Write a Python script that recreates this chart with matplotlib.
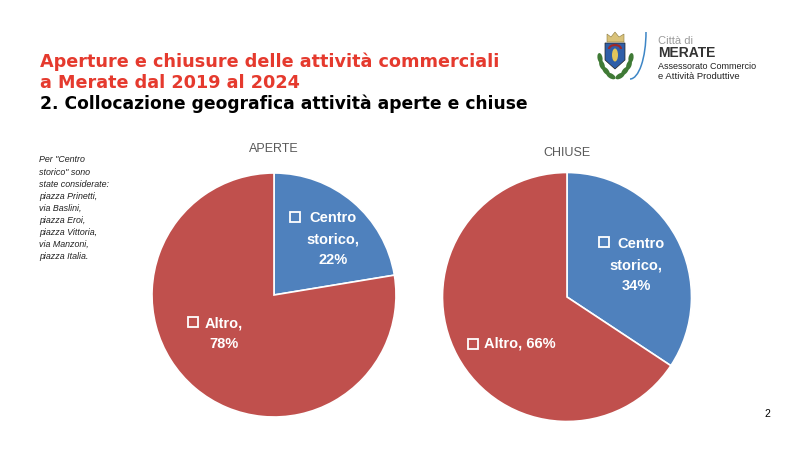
import matplotlib
matplotlib.use('Agg')
import matplotlib.pyplot as plt
from matplotlib.patches import Rectangle, Polygon, Ellipse, Arc

W, H = 800, 451

labels_open = [['Centro', 'storico,', '22%'], ['Altro,', '78%']]
values_open = [22.4, 77.6]
labels_closed = [['Centro', 'storico,', '34%'], ['Altro, 66%']]
values_closed = [34.3, 65.7]
colors = ['#4F81BD', '#C0504D']

title_red = ['Aperture e chiusure delle attività commerciali', 'a Merate dal 2019 al 2024']
title_black = '2. Collocazione geografica attività aperte e chiuse'
note_lines = ['Per "Centro', 'storico" sono', 'state considerate:', 'piazza Prinetti,', 'via Baslini,',
              'piazza Eroi,', 'piazza Vittoria,', 'via Manzoni,', 'piazza Italia.']

plt.rcParams['font.family'] = ['Liberation Sans', 'DejaVu Sans']

fig = plt.figure(figsize=(W / 100, H / 100), dpi=100, facecolor='white')

# overlay in pixel coordinates for the slide text and the logo
bg = fig.add_axes([0, 0, 1, 1])
bg.set_xlim(0, W)
bg.set_ylim(H, 0)
bg.axis('off')


def pie_axes(cx, cy, r, values):
    ax = fig.add_axes([(cx - r) / W, 1 - (cy + r) / H, 2 * r / W, 2 * r / H])
    ax.pie(values, colors=colors, startangle=90, counterclock=False, radius=1,
           wedgeprops={'edgecolor': 'white', 'linewidth': 1.2})
    ax.set_xlim(-1, 1)
    ax.set_ylim(-1, 1)
    ax.set_aspect('equal')
    return ax


pie_axes(274, 295, 122, values_open)
pie_axes(567, 297, 124.5, values_closed)

# labels of the slices, with the little square legend key
lab = fig.add_axes([0, 0, 1, 1])
lab.set_xlim(0, W)
lab.set_ylim(H, 0)
lab.axis('off')
lab.patch.set_alpha(0)


def pie_label(x, y, lines, kx, ky, first_dx=0):
    for i, line in enumerate(lines):
        dx = first_dx if i == 0 else 0
        lab.text(x + dx, y + i * 21, line, color='white', fontsize=10.5, fontweight='bold',
                 ha='center', va='baseline')
    lab.add_patch(Rectangle((kx, ky), 10, 10, fill=False, edgecolor='white', linewidth=1.3))


pie_label(333, 222, labels_open[0], 290, 212)
pie_label(224, 327, labels_open[1], 188, 317)
pie_label(636, 248, labels_closed[0], 599, 237, first_dx=5)
pie_label(520, 348, labels_closed[1], 468, 339)

bg.text(274, 149.5, 'APERTE', color='#595959', fontsize=9, ha='center', va='center')
bg.text(567, 152.5, 'CHIUSE', color='#595959', fontsize=9, ha='center', va='center')

# titles
bg.text(40, 66.7, title_red[0], color='#E53A2E', fontsize=12.7, fontweight='bold', family='DejaVu Sans')
bg.text(40, 88, title_red[1], color='#E53A2E', fontsize=12.7, fontweight='bold', family='DejaVu Sans')
bg.text(40, 109, title_black, color='black', fontsize=12.3, fontweight='bold', family='DejaVu Sans')

# side note
for i, line in enumerate(note_lines):
    bg.text(39, 160 + i * 12.1, line, color='#222222', fontsize=6.4, style='italic', va='center')

bg.text(767, 414, '2', color='black', fontsize=7.5, ha='center', va='center')

# logo
for lx, ly, ang in [(600, 58, -10), (602, 65, -20), (606, 71, -40), (611, 76, -60)]:
    bg.add_patch(Ellipse((lx, ly), 5, 10, angle=ang, facecolor='#3F7A35', edgecolor='none'))
for lx, ly, ang in [(631, 58, 10), (629, 65, 20), (625, 71, 40), (620, 76, 60)]:
    bg.add_patch(Ellipse((lx, ly), 5, 10, angle=ang, facecolor='#3F7A35', edgecolor='none'))
bg.add_patch(Polygon([(605, 43), (625, 43), (625, 60), (615, 69), (605, 60)], closed=True,
                     facecolor='#2F5FA8', edgecolor='#222222', linewidth=0.5))
bg.add_patch(Polygon([(607, 42), (607, 34), (611, 37), (615, 32), (619, 37), (624, 34), (624, 42)], closed=True,
                     facecolor='#D9C27A', edgecolor='#8A7A40', linewidth=0.4))
bg.add_patch(Arc((615, 49), 12, 8, theta1=180, theta2=360, edgecolor='#9C2A2A', linewidth=1.6))
bg.add_patch(Ellipse((615, 55), 6, 13, facecolor='#E3C65A', edgecolor='none'))
bg.add_patch(Arc((630, 32), 32, 94, theta1=0, theta2=90, edgecolor='#3D86C6', linewidth=1.1))
bg.text(658, 41, 'Città di', color='#9A9A9A', fontsize=8, va='center')
bg.text(658, 53, 'MERATE', color='#333333', fontsize=10, fontweight='bold', va='center')
bg.text(658, 66.5, 'Assessorato Commercio', color='#222222', fontsize=6.5, va='center')
bg.text(658, 76.5, 'e Attività Produttive', color='#222222', fontsize=6.8, va='center')

fig.savefig('out.png', dpi=100)
